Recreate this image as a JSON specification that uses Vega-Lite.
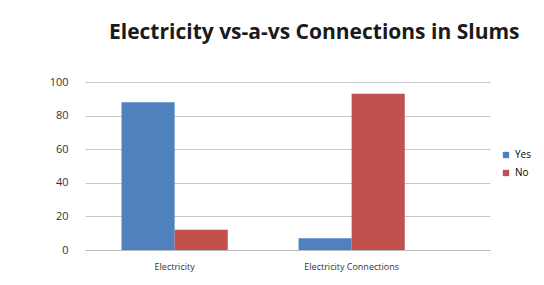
{
  "$schema": "https://vega.github.io/schema/vega-lite/v6.json",
  "autosize": "none",
  "width": 405,
  "height": 168,
  "padding": {"left": 85, "top": 82, "right": 54, "bottom": 35},
  "background": "white",
  "title": {"text": "Electricity vs-a-vs Connections in Slums", "font": "Open Sans", "fontSize": 21, "fontWeight": "bold", "color": "#1a1a1a", "anchor": "start", "frame": "group", "dx": 24, "offset": 33},
  "data": {"values": [
    {"category": "Electricity", "answer": "Yes", "value": 88},
    {"category": "Electricity", "answer": "No", "value": 12},
    {"category": "Electricity Connections", "answer": "Yes", "value": 7},
    {"category": "Electricity Connections", "answer": "No", "value": 93}
  ]},
  "mark": {"type": "bar", "stroke": null},
  "encoding": {
    "x": {"field": "category", "type": "nominal", "sort": null, "title": null,
      "scale": {"paddingInner": 0.4, "paddingOuter": 0.344, "align": 0.3},
      "axis": {"labelAngle": 0, "labelFont": "Open Sans", "labelFontSize": 9, "labelColor": "#333", "ticks": false, "domainColor": "#bbb", "labelPadding": 12}},
    "xOffset": {"field": "answer", "sort": ["Yes", "No"]},
    "y": {"field": "value", "type": "quantitative", "title": null,
      "scale": {"domain": [0, 100]},
      "axis": {"values": [0, 20, 40, 60, 80, 100], "labelFont": "Open Sans", "labelFontSize": 11, "labelColor": "#333", "ticks": false, "domain": false, "gridColor": "#c8c8c8", "labelPadding": 17}},
    "color": {"field": "answer", "type": "nominal", "sort": ["Yes", "No"],
      "scale": {"domain": ["Yes", "No"], "range": ["#4F81BD", "#C0504D"]},
      "legend": {"title": null, "orient": "none", "legendX": 416, "legendY": 68, "symbolType": "square", "symbolSize": 40, "labelFont": "Open Sans", "labelFontSize": 10, "rowPadding": 8}}
  },
  "config": {"view": {"stroke": null}}
}
